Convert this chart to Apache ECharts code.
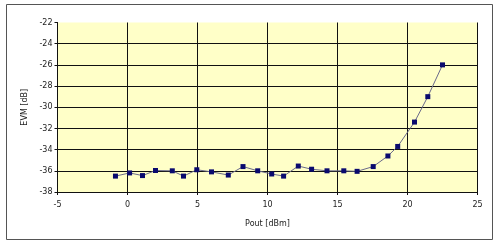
<!DOCTYPE html>
<html>
<head>
<meta charset="utf-8">
<script src="https://cdn.jsdelivr.net/npm/echarts@6/dist/echarts.min.js"></script>
<style>
html,body{margin:0;padding:0;background:#fff;}
#c{width:500px;height:245px;}
</style>
</head>
<body>
<div id="c"></div>
<script>
// Data
var poutDbm = [-0.86, 0.15, 1.07, 2.0, 3.2, 4.0, 4.95, 6.0, 7.2, 8.25, 9.3, 10.3, 11.15, 12.2, 13.15, 14.25, 15.45, 16.4, 17.55, 18.6, 19.3, 20.5, 21.45, 22.5];
var evmDb = [-36.5, -36.2, -36.45, -35.97, -36.0, -36.5, -35.9, -36.1, -36.4, -35.6, -36.0, -36.3, -36.5, -35.55, -35.85, -36.0, -36.0, -36.05, -35.6, -34.6, -33.7, -31.4, -29.0, -26.0];
var xAxisTitle = 'Pout [dBm]';
var yAxisTitle = 'EVM [dB]';

var points = poutDbm.map(function (x, i) { return [x, evmDb[i]]; });

var chart = echarts.init(document.getElementById('c'), null, {renderer: 'canvas'});
var font = 'DejaVu Sans';
var yColors = ['#111','#111','#111','#111','#111','#111','#111','#111','rgba(0,0,0,0)'];
chart.setOption({
  animation: false,
  backgroundColor: '#fff',
  graphic: [{
    type: 'rect',
    shape: {x: 6.5, y: 4.5, width: 486, height: 235},
    style: {fill: 'none', stroke: '#555', lineWidth: 1},
    z: 100
  }],
  grid: {
    left: 57.5, right: 22.5, top: 22.5, bottom: 53,
    show: true, backgroundColor: '#FFFFC8', borderWidth: 0
  },
  xAxis: {
    type: 'value', min: -5, max: 25, interval: 5,
    name: xAxisTitle, nameLocation: 'middle', nameGap: 28,
    nameTextStyle: {fontFamily: font, fontSize: 8, color: '#222'},
    axisLine: {show: true, onZero: false, lineStyle: {color: '#111', width: 1}},
    axisTick: {show: true, length: 3, lineStyle: {color: '#111'}},
    axisLabel: {fontFamily: font, fontSize: 8, color: '#222', margin: 9},
    splitLine: {show: true, lineStyle: {color: '#111', width: 1}}
  },
  yAxis: {
    type: 'value', min: -38, max: -22, interval: 2,
    name: yAxisTitle, nameLocation: 'middle', nameGap: 29, nameRotate: 90,
    nameTextStyle: {fontFamily: font, fontSize: 8, color: '#222'},
    axisLine: {show: true, onZero: false, lineStyle: {color: '#111', width: 1}},
    axisTick: {show: true, length: 3, lineStyle: {color: '#111'}},
    axisLabel: {fontFamily: font, fontSize: 8, color: '#222', margin: 5},
    splitLine: {show: true, lineStyle: {color: yColors, width: 1}}
  },
  series: [{
    type: 'line',
    data: points,
    symbol: 'rect',
    symbolSize: 5,
    itemStyle: {color: '#0A0A6E'},
    lineStyle: {color: '#6A6A8A', width: 1},
    z: 5
  }]
});
</script>
</body>
</html>
